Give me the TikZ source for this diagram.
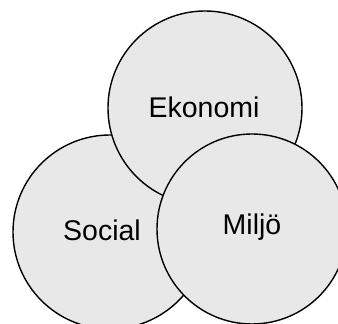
\documentclass[tikz,border=0pt]{standalone}
\usepackage{fontspec}
\setmainfont{Liberation Sans}
\begin{document}
\begin{tikzpicture}[x=1pt,y=1pt,
  venn/.style={circle,draw=black,line width=1.4pt,fill=vennfill,minimum size=194pt,inner sep=0pt},
  lbl/.style={font=\fontsize{28.5}{31}\selectfont,text=black}]
\definecolor{vennfill}{HTML}{E8E8E8}
\useasboundingbox (0,0) rectangle (338,324);
\node[venn] (social) at (110,92) {};
\node[venn] (ekonomi) at (205,216) {};
\node[venn,minimum size=190pt] (miljo) at (252,95) {};
\node[lbl] (tsocial) at (102,94) {Social};
\node[lbl] (tekonomi) at (204,217) {Ekonomi};
\node[lbl] (tmiljo) at (252,97) {Miljö};
\end{tikzpicture}
\end{document}
